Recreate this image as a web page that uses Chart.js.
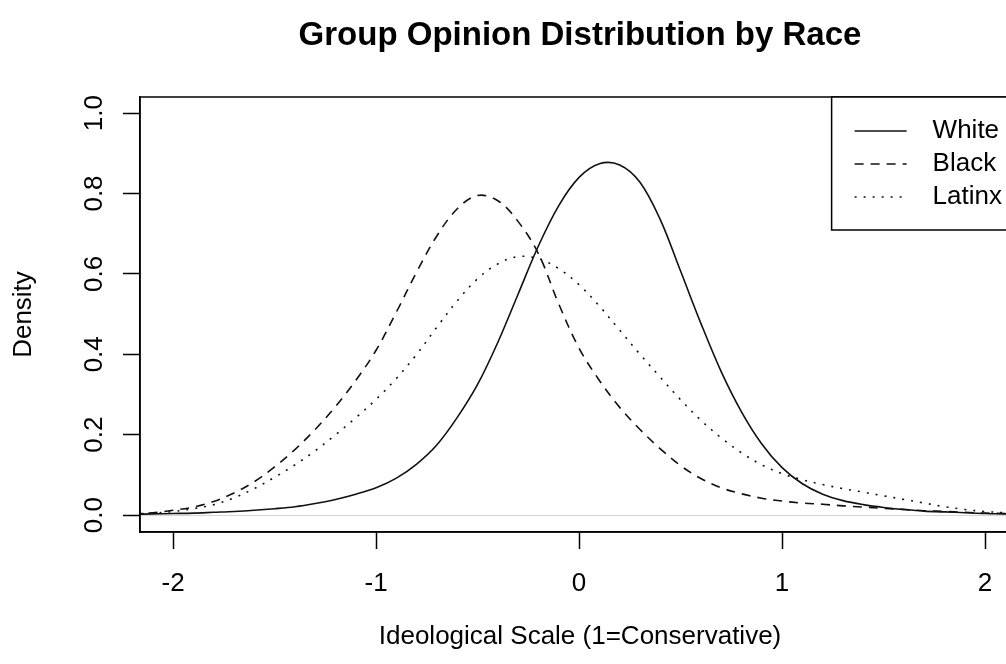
<!DOCTYPE html>
<html>
<head>
<meta charset="utf-8">
<title>Group Opinion Distribution by Race</title>
<script src="https://cdn.jsdelivr.net/npm/chart.js@4.4.0/dist/chart.umd.min.js"></script>
<style>
  html, body { margin: 0; padding: 0; overflow: hidden; background: #fff; }
  #densityChart { display: block; }
</style>
</head>
<body>
<canvas id="densityChart" width="1040" height="664"></canvas>
<script>
// Werte (Dichte je Gruppe)
const xValues = [-2.2, -2.1, -2.0, -1.9, -1.8, -1.7, -1.6, -1.5, -1.4, -1.3, -1.2, -1.1, -1.0, -0.9, -0.8, -0.7, -0.6, -0.5, -0.4, -0.3, -0.2, -0.1,
    0.0, 0.1, 0.2, 0.3, 0.4, 0.5, 0.6, 0.7, 0.8, 0.9, 1.0, 1.1, 1.2, 1.3, 1.4, 1.5, 1.6, 1.7, 1.8, 1.9, 2.0, 2.1, 2.2];

const whiteDensity = [0.002, 0.003, 0.004, 0.005, 0.007, 0.009, 0.012, 0.016, 0.021, 0.029, 0.039, 0.052, 0.068, 0.092, 0.127, 0.175, 0.243, 0.325, 0.43, 0.55, 0.67, 0.77,
    0.84, 0.874, 0.871, 0.828, 0.735, 0.607, 0.477, 0.357, 0.257, 0.177, 0.118, 0.078, 0.052, 0.036, 0.026, 0.019, 0.014, 0.01, 0.008, 0.006, 0.004, 0.003, 0.002];

const blackDensity = [0.003, 0.006, 0.012, 0.02, 0.034, 0.055, 0.083, 0.12, 0.163, 0.213, 0.27, 0.335, 0.41, 0.505, 0.605, 0.695, 0.762, 0.795, 0.782, 0.73, 0.65, 0.525,
    0.415, 0.335, 0.268, 0.213, 0.165, 0.123, 0.091, 0.068, 0.053, 0.042, 0.035, 0.03, 0.027, 0.023, 0.02, 0.017, 0.014, 0.011, 0.009, 0.007, 0.005, 0.004, 0.003];

const latinxDensity = [0.003, 0.005, 0.009, 0.016, 0.026, 0.043, 0.066, 0.094, 0.125, 0.16, 0.20, 0.242, 0.288, 0.34, 0.40, 0.468, 0.533, 0.588, 0.625, 0.643, 0.638, 0.613,
    0.573, 0.52, 0.46, 0.40, 0.343, 0.287, 0.236, 0.192, 0.155, 0.125, 0.103, 0.088, 0.076, 0.066, 0.057, 0.048, 0.039, 0.03, 0.021, 0.014, 0.009, 0.006, 0.004];

const groupNames = ['White', 'Black', 'Latinx'];
const xTicks = [-2, -1, 0, 1, 2];
const yTicks = [0, 0.2, 0.4, 0.6, 0.8, 1.0];

const chartTitle = 'Group Opinion Distribution by Race';
const xTitle = 'Ideological Scale (1=Conservative)';
const yTitle = 'Density';

const fontFamily = '"Liberation Sans", Arial, Helvetica, sans-serif';
const fontSize = 26;

Chart.defaults.font.family = fontFamily;
Chart.defaults.font.size = fontSize;
Chart.defaults.color = '#000';

const toPoints = (ys) => xValues.map((x, i) => ({ x: x, y: ys[i] }));

// Titel über dem Plot-Rahmen, zentriert wie in R
const titlePlugin = {
    id: 'rTitle',
    afterDraw(chart) {
        const { ctx, chartArea } = chart;
        ctx.save();
        ctx.font = `bold 33px ${fontFamily}`;
        ctx.fillStyle = '#000';
        ctx.textAlign = 'center';
        ctx.textBaseline = 'alphabetic';
        ctx.fillText(chartTitle, (chartArea.left + chartArea.right) / 2, 45);
        ctx.restore();
    }
};

// Rahmen um die Plotfläche
const boxPlugin = {
    id: 'plotBox',
    afterDatasetsDraw(chart) {
        const { ctx, chartArea } = chart;
        ctx.save();
        ctx.strokeStyle = '#000';
        ctx.lineWidth = 1.5;
        ctx.strokeRect(chartArea.left, chartArea.top, chartArea.right - chartArea.left, chartArea.bottom - chartArea.top);
        ctx.restore();
    }
};

// Legende oben rechts mit Linienmustern
const legendPlugin = {
    id: 'rLegend',
    afterDraw(chart) {
        const { ctx, chartArea } = chart;
        const datasets = chart.data.datasets;
        const rowH = 33;
        const sampleLen = 52;
        ctx.save();
        ctx.font = `${fontSize}px ${fontFamily}`;
        const textW = Math.max(...datasets.map(d => ctx.measureText(d.label).width));
        const boxW = 23 + sampleLen + 26 + textW + 18;
        const boxH = 34 + rowH * datasets.length;
        const left = chartArea.right - boxW;
        const top = chartArea.top;

        ctx.fillStyle = '#fff';
        ctx.fillRect(left, top, boxW, boxH);
        ctx.strokeStyle = '#000';
        ctx.lineWidth = 1.5;
        ctx.strokeRect(left, top, boxW, boxH);

        datasets.forEach((d, i) => {
            const y = top + 34 + rowH * i;
            ctx.beginPath();
            ctx.setLineDash(d.borderDash || []);
            ctx.lineWidth = d.borderWidth;
            ctx.strokeStyle = d.borderColor;
            ctx.moveTo(left + 23, y);
            ctx.lineTo(left + 23 + sampleLen, y);
            ctx.stroke();
            ctx.setLineDash([]);
            ctx.fillStyle = '#000';
            ctx.textAlign = 'left';
            ctx.textBaseline = 'middle';
            ctx.fillText(d.label, left + 23 + sampleLen + 26, y);
        });
        ctx.restore();
    }
};

const ctx = document.getElementById('densityChart').getContext('2d');

const chart = new Chart(ctx, {
    type: 'line',
    data: {
        datasets: [
            {
                label: groupNames[0],
                data: toPoints(whiteDensity),
                borderColor: '#111',
                borderWidth: 1.6,
                borderDash: [],
                pointRadius: 0,
                fill: false,
                tension: 0.35
            },
            {
                label: groupNames[1],
                data: toPoints(blackDensity),
                borderColor: '#111',
                borderWidth: 1.6,
                borderDash: [9, 7],
                pointRadius: 0,
                fill: false,
                tension: 0.35
            },
            {
                label: groupNames[2],
                data: toPoints(latinxDensity),
                borderColor: '#111',
                borderWidth: 1.6,
                borderDash: [2, 7],
                pointRadius: 0,
                fill: false,
                tension: 0.35
            }
        ]
    },
    options: {
        responsive: false,
        animation: false,
        events: [],
        layout: {
            padding: { top: 97, right: 20, bottom: 0, left: 0 }
        },
        plugins: {
            legend: { display: false },
            title: { display: false },
            tooltip: { enabled: false }
        },
        scales: {
            x: {
                type: 'linear',
                min: -2.163,
                max: 2.172,
                afterBuildTicks: (scale) => { scale.ticks = xTicks.map(v => ({ value: v })); },
                afterFit: (scale) => { scale.height = 132; },
                grid: {
                    drawOnChartArea: false,
                    drawTicks: true,
                    tickLength: 17,
                    tickWidth: 1.5,
                    tickColor: '#000'
                },
                border: { display: true, color: '#000', width: 1.5 },
                ticks: {
                    padding: 19,
                    autoSkip: false,
                    maxRotation: 0,
                    color: '#000',
                    callback: (v) => String(v)
                },
                title: {
                    display: true,
                    text: xTitle,
                    color: '#000',
                    padding: { top: 0, bottom: 12 }
                }
            },
            y: {
                min: -0.042,
                max: 1.04,
                afterBuildTicks: (scale) => { scale.ticks = yTicks.map(v => ({ value: v })); },
                afterFit: (scale) => { scale.width = 140; },
                grid: {
                    drawOnChartArea: true,
                    color: (c) => (c.tick && c.tick.value === 0) ? '#d4d4d4' : 'rgba(0,0,0,0)',
                    lineWidth: 1,
                    tickLength: 17,
                    tickWidth: 1.5,
                    tickColor: '#000'
                },
                border: { display: true, color: '#000', width: 1.5 },
                ticks: {
                    padding: 10,
                    minRotation: 90,
                    maxRotation: 90,
                    crossAlign: 'center',
                    autoSkip: false,
                    color: '#000',
                    callback: (v) => v.toFixed(1)
                },
                title: {
                    display: true,
                    text: yTitle,
                    color: '#000',
                    padding: { top: 8, bottom: 0 }
                }
            }
        }
    },
    plugins: [titlePlugin, boxPlugin, legendPlugin]
});
</script>
</body>
</html>
